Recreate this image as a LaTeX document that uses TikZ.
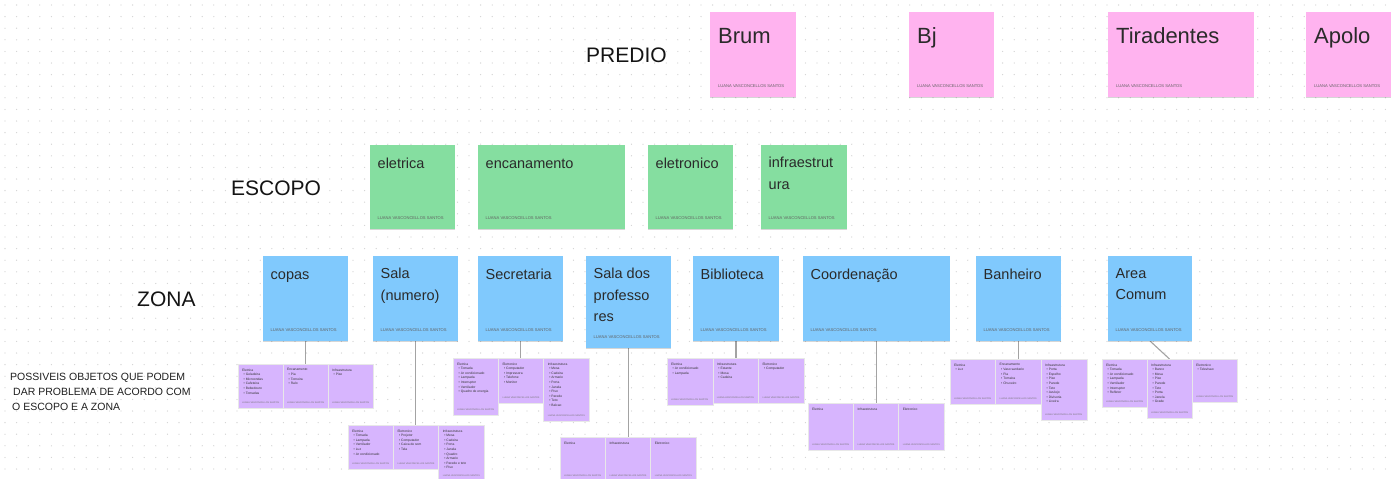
\documentclass[tikz,border=0pt]{standalone}
\usepackage{fontspec}
\setmainfont{Liberation Sans}
\usetikzlibrary{shadows}

% sticky note paper colours
\definecolor{cPink}{HTML}{FFB3EF}
\definecolor{cGreen}{HTML}{85DEA0}
\definecolor{cBlue}{HTML}{80C9FD}
\definecolor{cViolet}{HTML}{D7B5FE}
\definecolor{cInk}{HTML}{2A2A2A}
\definecolor{cDot}{HTML}{D2D2D2}
\definecolor{cWire}{HTML}{A3A3A3}

\pgfdeclarelayer{board}
\pgfdeclarelayer{wires}
\pgfsetlayers{board,wires,main}

\newcommand\objitem{\hspace*{1.5pt}\textbullet\hspace{1pt}}

\tikzset{
  paper/.style={rectangle, draw=none, inner sep=0pt, outer sep=0pt, anchor=north west,
    drop shadow={shadow xshift=0pt, shadow yshift=-1.2pt, opacity=0.16, fill=black}},
  pinknote/.style={paper, fill=cPink},
  greennote/.style={paper, fill=cGreen},
  bluenote/.style={paper, fill=cBlue},
  violetnote/.style={paper, fill=cViolet, draw=black!9, line width=0.4pt},
  bigtitle/.style={anchor=north west, inner sep=0pt, xshift=8pt, yshift=-15.5pt,
    align=left, text=cInk, font=\fontsize{22}{26}\selectfont,
    execute at begin node={\rule{0pt}{16pt}}},
  smalltitle/.style={anchor=north west, inner sep=0pt, xshift=7.5pt, yshift=-12pt,
    align=left, text=cInk, font=\fontsize{14.5}{21.5}\selectfont,
    execute at begin node={\rule{0pt}{11pt}}},
  bigfoot/.style={anchor=base west, inner sep=0pt, xshift=8pt, yshift=10pt,
    text=black!62, font=\fontsize{4.1}{5}\selectfont},
  smallfoot/.style={anchor=base west, inner sep=0pt, xshift=7.5pt, yshift=10pt,
    text=black!62, font=\fontsize{4.1}{5}\selectfont},
  objtext/.style={anchor=north west, inner sep=0pt, xshift=4pt, yshift=-4.5pt,
    align=left, text=black!80, font=\fontsize{3.3}{4.6}\selectfont},
  objfoot/.style={anchor=base west, inner sep=0pt, xshift=4pt, yshift=4.5pt,
    text=black!55, font=\fontsize{2.3}{3}\selectfont},
  rowlabel/.style={anchor=base west, inner sep=0pt, text=black!92,
    font=\fontsize{21}{25}\selectfont},
  hint/.style={anchor=north west, inner sep=0pt, align=left, text=black!88,
    font=\fontsize{10.5}{15}\selectfont},
  wire/.style={draw=cWire, line width=1.1pt},
}

% name, paper style, title style, footer style, x, y, width, height, title
\newcommand\sticky[9]{%
  \node[#2, minimum width=#7pt, minimum height=#8pt] (#1) at (#5,#6) {};
  \node[#3] (#1-title) at (#1.north west) {#9};
  \node[#4] (#1-foot) at (#1.south west) {LUANA VASCONCELLOS SANTOS};
}
% name, x, y, width, height, list
\newcommand\objnote[6]{%
  \node[violetnote, minimum width=#4pt, minimum height=#5pt] (#1) at (#2,#3) {};
  \node[objtext] (#1-list) at (#1.north west) {#6};
  \node[objfoot] (#1-foot) at (#1.south west) {LUANA VASCONCELLOS SANTOS};
}

\begin{document}
\begin{tikzpicture}[x=1pt,y=-1pt]
\useasboundingbox (0,0) rectangle (1395,479);

% dotted board
\begin{pgfonlayer}{board}
  \fill[white] (0,0) rectangle (1395,479);
  \foreach \gx in {0,...,120}
    \foreach \gy in {0,...,41}
      \fill[cDot] (5+\gx*11.6, 5+\gy*11.6) circle (0.65pt);
\end{pgfonlayer}

% row labels
\node[rowlabel] (predio) at (586,62.5) {PREDIO};
\node[rowlabel] (escopo) at (231,195.5) {ESCOPO};
\node[rowlabel] (zona) at (137,306) {ZONA};
\node[hint] (legend) at (10,373.3)
  {POSSIVEIS OBJETOS QUE PODEM\\\hspace*{3pt}DAR PROBLEMA DE ACORDO COM\\\hspace*{2pt}O ESCOPO E A ZONA};

% buildings
\sticky{brum}{pinknote}{bigtitle}{bigfoot}{710}{12}{86}{85}{Brum}
\sticky{bj}{pinknote}{bigtitle}{bigfoot}{909}{12}{85}{85}{Bj}
\sticky{tiradentes}{pinknote}{bigtitle}{bigfoot}{1108}{12}{146}{85}{Tiradentes}
\sticky{apolo}{pinknote}{bigtitle}{bigfoot}{1306}{12}{85}{85}{Apolo}

% scopes
\sticky{eletrica}{greennote}{smalltitle}{smallfoot}{370}{145}{85}{84}{eletrica}
\sticky{encanamento}{greennote}{smalltitle}{smallfoot}{478}{145}{147}{84}{encanamento}
\sticky{eletronico}{greennote}{smalltitle}{smallfoot}{648}{145}{85}{84}{eletronico}
\sticky{infra}{greennote}{smalltitle}{smallfoot}{761}{145}{86}{84}{infraestrut\\ura}

% zones
\sticky{copas}{bluenote}{smalltitle}{smallfoot}{263}{256}{85}{85}{copas}
\sticky{sala}{bluenote}{smalltitle}{smallfoot}{373}{256}{85}{85}{Sala\\(numero)}
\sticky{secretaria}{bluenote}{smalltitle}{smallfoot}{478}{256}{85}{85}{Secretaria}
\sticky{salaprof}{bluenote}{smalltitle}{smallfoot}{586}{256}{85}{92}{Sala dos\\professo\\res}
\sticky{biblioteca}{bluenote}{smalltitle}{smallfoot}{693}{256}{86}{85}{Biblioteca}
\sticky{coordenacao}{bluenote}{smalltitle}{smallfoot}{803}{256}{147}{85}{Coordenação}
\sticky{banheiro}{bluenote}{smalltitle}{smallfoot}{976}{256}{85}{85}{Banheiro}
\sticky{areacomum}{bluenote}{smalltitle}{smallfoot}{1108}{256}{84}{85}{Area\\Comum}

% objects per zone
\objnote{g1a}{238}{364}{45}{44}{Eletrica\\\objitem Geladeira\\\objitem Microondas\\\objitem Cafeteira\\\objitem Bebedouro\\\objitem Tomadas}
\objnote{g1b}{283}{364}{45}{44}{Encanamento\\\objitem Pia\\\objitem Torneira\\\objitem Ralo}
\objnote{g1c}{328}{364}{45}{44}{Infraestrutura\\\objitem Piso}

\objnote{g2a}{348}{425}{45.3}{44}{Eletrica\\\objitem Tomada\\\objitem Lampada\\\objitem Ventilador\\\objitem Luz\\\objitem Ar condicionado}
\objnote{g2b}{393.3}{425}{45.3}{44}{Eletronico\\\objitem Projetor\\\objitem Computador\\\objitem Caixa de som\\\objitem Tela}
\objnote{g2c}{438.6}{425}{45.4}{56}{Infraestrutura\\\objitem Mesa\\\objitem Cadeira\\\objitem Porta\\\objitem Janela\\\objitem Quadro\\\objitem Armario\\\objitem Parede e teto\\\objitem Piso}

\objnote{g3a}{453}{358}{45.3}{57}{Eletrica\\\objitem Tomada\\\objitem Ar condicionado\\\objitem Lampada\\\objitem Interruptor\\\objitem Ventilador\\\objitem Quadro de energia}
\objnote{g3b}{498.3}{358}{45.3}{45}{Eletronico\\\objitem Computador\\\objitem Impressora\\\objitem Telefone\\\objitem Monitor}
\objnote{g3c}{543.6}{358}{45.4}{63}{Infraestrutura\\\objitem Mesa\\\objitem Cadeira\\\objitem Armario\\\objitem Porta\\\objitem Janela\\\objitem Piso\\\objitem Parede\\\objitem Teto\\\objitem Balcao}

\objnote{g4a}{560}{437}{45.3}{44}{Eletrica}
\objnote{g4b}{605.3}{437}{45.3}{44}{Infraestrutura}
\objnote{g4c}{650.6}{437}{45.4}{44}{Eletronico}

\objnote{g5a}{667}{358}{45.7}{47}{Eletrica\\\objitem Ar condicionado\\\objitem Lampada}
\objnote{g5b}{712.7}{358}{45.6}{45}{Infraestrutura\\\objitem Estante\\\objitem Mesa\\\objitem Cadeira}
\objnote{g5c}{758.3}{358}{45.7}{45}{Eletronico\\\objitem Computador}

\objnote{g6a}{808}{403}{45.3}{47}{Eletrica}
\objnote{g6b}{853.3}{403}{45.3}{47}{Infraestrutura}
\objnote{g6c}{898.6}{403}{45.4}{47}{Eletronico}

\objnote{g7a}{950}{359}{45.5}{45}{Eletrica\\\objitem Luz}
\objnote{g7b}{995.5}{359}{45.5}{45}{Encanamento\\\objitem Vaso sanitario\\\objitem Pia\\\objitem Torneira\\\objitem Chuveiro}
\objnote{g7c}{1041}{359}{46}{61}{Infraestrutura\\\objitem Porta\\\objitem Espelho\\\objitem Piso\\\objitem Parede\\\objitem Teto\\\objitem Azulejo\\\objitem Divisoria\\\objitem Lixeira}

\objnote{g8a}{1102}{359}{45}{48}{Eletrica\\\objitem Tomada\\\objitem Ar condicionado\\\objitem Lampada\\\objitem Ventilador\\\objitem Interruptor\\\objitem Refletor}
\objnote{g8b}{1147}{359}{45}{59}{Infraestrutura\\\objitem Banco\\\objitem Mesa\\\objitem Piso\\\objitem Parede\\\objitem Teto\\\objitem Porta\\\objitem Janela\\\objitem Grade}
\objnote{g8c}{1192}{359}{45}{43}{Eletronico\\\objitem Televisao}

% links from each zone to its objects
\begin{pgfonlayer}{wires}
  \draw[wire] (copas.south) -- (copas.south |- g1b.north);
  \draw[wire] (sala.south) -- (sala.south |- g2b.north);
  \draw[wire] (secretaria.south) -- (secretaria.south |- g3b.north);
  \draw[wire] (salaprof.south) -- (salaprof.south |- g4b.north);
  \draw[wire] (biblioteca.south) -- (biblioteca.south |- g5b.north);
  \draw[wire] (coordenacao.south) -- (coordenacao.south |- g6b.north);
  \draw[wire] (banheiro.south) -- (banheiro.south |- g7b.north);
  \draw[wire] (areacomum.south) -- (g8b.north);
\end{pgfonlayer}
\end{tikzpicture}
\end{document}
